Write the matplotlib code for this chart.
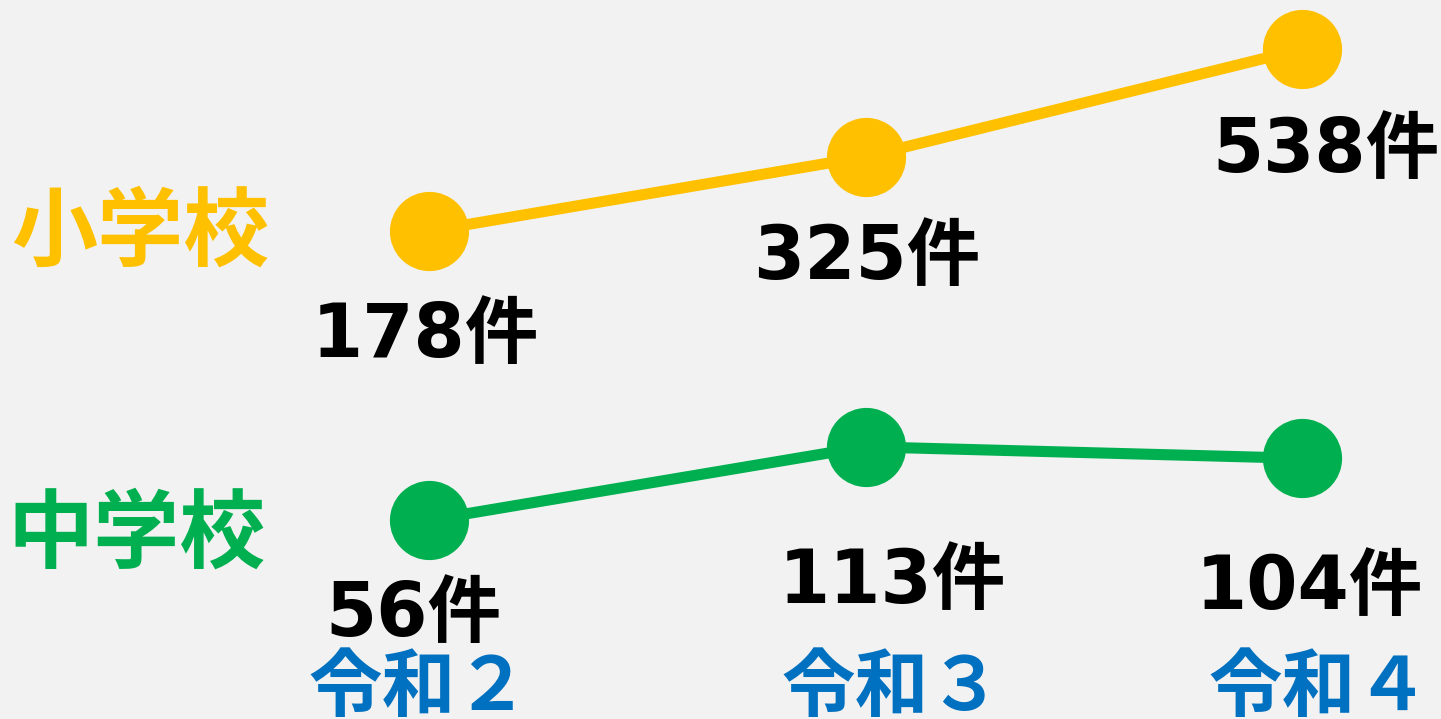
import matplotlib.pyplot as plt

years = ['令和２', '令和３', '令和４']
elementary = [178, 325, 538]
junior_high = [56, 113, 104]

YELLOW = '#FFC000'
GREEN = '#00B050'
BLUE = '#0070C0'
BG = '#F2F2F2'

# label offsets in points (hand tuned to the reference)
elem_offsets = [(-3, -76), (1, -73), (17, -74)]
junior_offsets = [(-11, -69), (19, -98), (5, -94)]
year_offsets = [-7, 19, 12]

fig = plt.figure(figsize=(14.41, 7.19), dpi=100, facecolor=BG)
ax1 = fig.add_axes([0, 0, 1, 1])
ax2 = fig.add_axes([0, 0, 1, 1])
for ax in (ax1, ax2):
    ax.set_xlim(-0.983, 2.318)
    ax.axis('off')
    ax.patch.set_alpha(0)
ax1.set_ylim(-787, 635)
ax2.set_ylim(-98.7, 460.4)

xs = list(range(len(years)))
num_font = ['DejaVu Sans', 'Noto Sans CJK JP']

ax1.plot(xs, elementary, color=YELLOW, lw=8, marker='o', ms=56,
         solid_capstyle='round', zorder=3)
ax2.plot(xs, junior_high, color=GREEN, lw=8, marker='o', ms=56,
         solid_capstyle='round', zorder=3)

for x, v, off in zip(xs, elementary, elem_offsets):
    ax1.annotate(f'{v}件', xy=(x, v), xytext=off, textcoords='offset points',
                 ha='center', va='center', fontsize=53, fontweight='bold',
                 family=num_font, color='black')
for x, v, off in zip(xs, junior_high, junior_offsets):
    ax2.annotate(f'{v}件', xy=(x, v), xytext=off, textcoords='offset points',
                 ha='center', va='center', fontsize=53, fontweight='bold',
                 family=num_font, color='black')

# year labels sit at the bottom edge, partly cropped as in the original
for x, lab, off in zip(xs, years, year_offsets):
    ax2.annotate(lab, xy=(x, 0.042), xycoords=ax2.get_xaxis_transform(),
                 xytext=(off, 0), textcoords='offset points',
                 ha='center', va='center', fontsize=53, fontweight='bold',
                 family='Noto Sans CJK JP', color=BLUE)

fig.text(140 / 1441, 1 - 233 / 719, '小学校', ha='center', va='center',
         fontsize=62, fontweight='bold', family='Noto Sans CJK JP', color=YELLOW)
fig.text(137 / 1441, 1 - 535 / 719, '中学校', ha='center', va='center',
         fontsize=62, fontweight='bold', family='Noto Sans CJK JP', color=GREEN)

fig.savefig('out.png', dpi=100, facecolor=BG)
